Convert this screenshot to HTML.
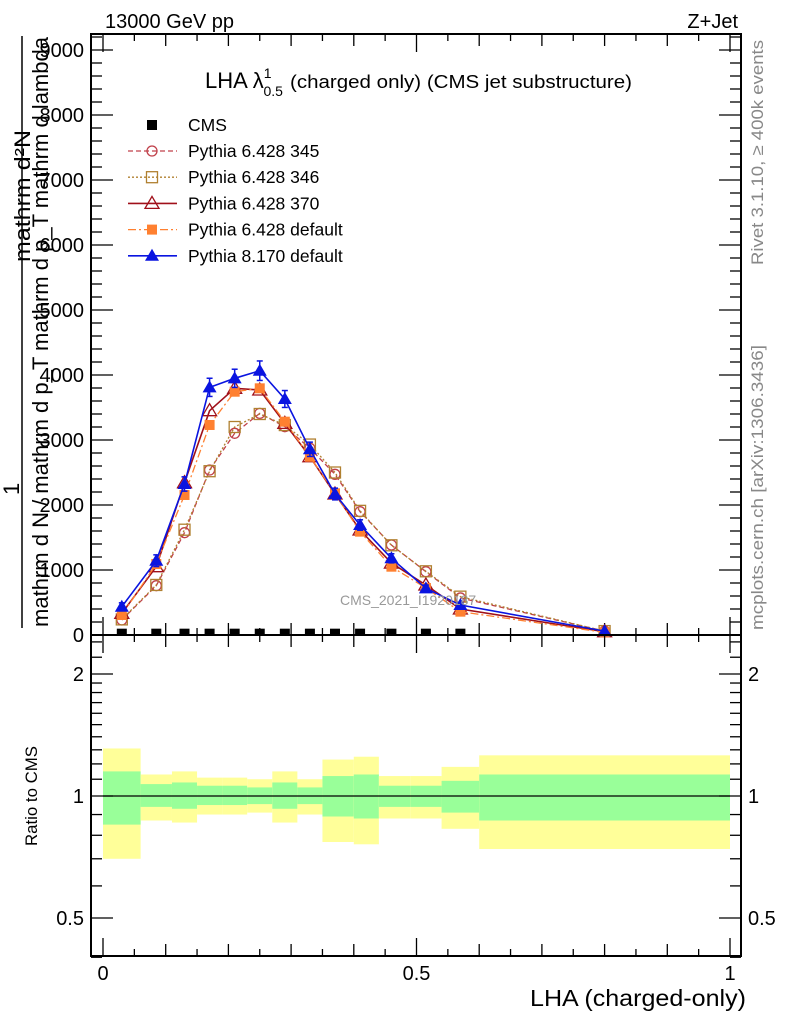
<!DOCTYPE html>
<html><head><meta charset="utf-8"><style>
html,body{margin:0;padding:0;background:#fff;}
svg{display:block;font-family:"Liberation Sans",sans-serif;}
</style></head><body>
<svg id="chart" width="786" height="1024" viewBox="0 0 786 1024" xmlns="http://www.w3.org/2000/svg">
<text x="105" y="28" font-size="20">13000 GeV pp</text>
<text x="738" y="28" font-size="20" text-anchor="end">Z+Jet</text>
<g id="main"></g>
<g id="ratio"></g>
<g>
<text x="205" y="88" font-size="22">LHA λ<tspan font-size="14" dy="-10">1</tspan><tspan font-size="14" dx="-8" dy="18">0.5</tspan></text>
<text x="290" y="88" font-size="18" textLength="342" lengthAdjust="spacingAndGlyphs">(charged only) (CMS jet substructure)</text>
</g>
<text x="340" y="605" font-size="14" fill="#999">CMS_2021_I1920187</text>
<text transform="translate(763,265) rotate(-90)" font-size="17" fill="#888" textLength="225" lengthAdjust="spacingAndGlyphs">Rivet 3.1.10, ≥ 400k events</text>
<text transform="translate(763,630) rotate(-90)" font-size="17" fill="#888" textLength="285" lengthAdjust="spacingAndGlyphs">mcplots.cern.ch [arXiv:1306.3436]</text>
<g font-size="22">
<text transform="translate(19,495) rotate(-90)">1</text>
<text transform="translate(30,262) rotate(-90)" textLength="132" lengthAdjust="spacingAndGlyphs">mathrm d²N</text>
<line x1="22" y1="36" x2="22" y2="628" stroke="#000" stroke-width="1.5"/>
<text transform="translate(48,627) rotate(-90)" textLength="590" lengthAdjust="spacingAndGlyphs">mathrm d N / mathrm d p_T mathrm d p_T mathrm d lambda</text>
</g>
<text transform="translate(37,846) rotate(-90)" font-size="17" textLength="100" lengthAdjust="spacingAndGlyphs">Ratio to CMS</text>
<text x="746" y="1006" font-size="23" text-anchor="end" textLength="216" lengthAdjust="spacingAndGlyphs">LHA (charged-only)</text>
</svg>
<script>
const xCenters=[0.03,0.085,0.13,0.17,0.21,0.25,0.29,0.33,0.37,0.41,0.46,0.515,0.57,0.8];
const binEdges=[0,0.06,0.11,0.15,0.19,0.23,0.27,0.31,0.35,0.40,0.44,0.49,0.54,0.60,1.0];
const cmsVals=[5,5,5,5,5,5,5,5,5,5,5,5,5,5];
const p345=[231,759,1574,2538,3103,3410,3205,2872,2472,1897,1385,974,570,60];
const p346=[240,770,1620,2520,3200,3400,3230,2930,2500,1910,1380,980,590,60];
const p370=[333,1051,2343,3451,3795,3769,3256,2743,2169,1615,1107,769,400,50];
const pDef=[308,1092,2154,3231,3743,3795,3282,2743,2180,1590,1051,723,359,40];
const p8=[435,1143,2323,3810,3949,4066,3631,2857,2169,1692,1180,718,461,60];
const p8err=[60,90,110,140,140,150,130,110,90,80,70,50,40,10];
const yTicks=[1000,2000,3000,4000,5000,6000,7000,8000,9000];
const yTickLabels=["1000","2000","3000","4000","5000","6000","7000","8000","9000"];
const bandYellowHi=[1.31,1.13,1.15,1.11,1.11,1.10,1.15,1.10,1.23,1.25,1.12,1.12,1.18,1.26];
const bandYellowLo=[0.70,0.87,0.86,0.90,0.90,0.91,0.86,0.90,0.77,0.76,0.88,0.88,0.83,0.74];
const bandGreenHi=[1.15,1.07,1.08,1.06,1.06,1.05,1.08,1.05,1.12,1.13,1.06,1.06,1.09,1.13];
const bandGreenLo=[0.85,0.94,0.93,0.95,0.95,0.955,0.93,0.955,0.89,0.88,0.94,0.94,0.91,0.87];
const ratioTicks=[0.5,1,2];
const ratioTickLabels=["0.5","1","2"];
const xTickLabels=["0","0.5","1"];

const NS="http://www.w3.org/2000/svg";
const X=v=>103+v*627;
const Y=v=>635-v*0.065;
const R=v=>796-Math.log2(v)*122;
function mk(parent,tag,attrs){const e=document.createElementNS(NS,tag);for(const k in attrs)e.setAttribute(k,attrs[k]);parent.appendChild(e);return e;}
const main=document.getElementById('main');
const ratio=document.getElementById('ratio');

for(let i=0;i<binEdges.length-1;i++){
  const x0=X(binEdges[i]),x1=X(binEdges[i+1]);
  let r=mk(ratio,'rect',{x:x0,y:R(bandYellowHi[i]),width:x1-x0,height:R(bandYellowLo[i])-R(bandYellowHi[i]),fill:'#ffff99'});
  
  
  r=mk(ratio,'rect',{x:x0,y:R(bandGreenHi[i]),width:x1-x0,height:R(bandGreenLo[i])-R(bandGreenHi[i]),fill:'#99ff99'});
  
  
}
let l1=mk(ratio,'line',{x1:X(0),x2:X(1),y1:R(1),y2:R(1),stroke:'#000','stroke-width':1.3});



const f1=mk(main,'rect',{x:91,y:34,width:650,height:601,fill:'none',stroke:'#000','stroke-width':2});


const f2=mk(ratio,'rect',{x:91,y:635,width:650,height:321,fill:'none',stroke:'#000','stroke-width':2});



for(let v=0;v<=9200;v+=200){
  const y=Y(v);const len=v%1000===0?22:11;
  mk(main,'line',{x1:91,x2:91+len,y1:y,y2:y,stroke:'#000','stroke-width':1.3});
  mk(main,'line',{x1:741,x2:741-len,y1:y,y2:y,stroke:'#000','stroke-width':1.3});
}
yTicks.forEach((v,i)=>{const t=mk(main,'text',{x:84,y:Y(v)+7,'font-size':20,'text-anchor':'end'});t.textContent=yTickLabels[i];

});
const t0=mk(main,'text',{x:84,y:Y(0)+7,'font-size':20,'text-anchor':'end'});t0.textContent="0";
for(let k=0;k<=20;k++){
  const v=k*0.05,x=X(v);const len=k%10===0?18:(k%2===0?12:7);
  mk(main,'line',{x1:x,x2:x,y1:635,y2:635-len,stroke:'#000','stroke-width':1.3});
  mk(main,'line',{x1:x,x2:x,y1:34,y2:34+len,stroke:'#000','stroke-width':1.3});
  mk(ratio,'line',{x1:x,x2:x,y1:956,y2:956-len,stroke:'#000','stroke-width':1.3});
  mk(ratio,'line',{x1:x,x2:x,y1:635,y2:635+len,stroke:'#000','stroke-width':1.3});
}
[0,0.5,1].forEach((v,i)=>{const t=mk(ratio,'text',{x:X(v),y:980,'font-size':20,'text-anchor':'middle'});t.textContent=xTickLabels[i];

});
const rmin=[0.4,0.6,0.7,0.8,0.9,1.1,1.2,1.3,1.4,1.5,1.6,1.7,1.8,1.9,2.2,2.4];
rmin.forEach(v=>{const y=R(v);mk(ratio,'line',{x1:91,x2:102,y1:y,y2:y,stroke:'#000','stroke-width':1.3});mk(ratio,'line',{x1:741,x2:730,y1:y,y2:y,stroke:'#000','stroke-width':1.3});});
ratioTicks.forEach((v,i)=>{const y=R(v);
  mk(ratio,'line',{x1:91,x2:113,y1:y,y2:y,stroke:'#000','stroke-width':1.3});
  mk(ratio,'line',{x1:741,x2:719,y1:y,y2:y,stroke:'#000','stroke-width':1.3});
  const t=mk(ratio,'text',{x:84,y:y+7,'font-size':20,'text-anchor':'end'});t.textContent=ratioTickLabels[i];
  
  
  const t2=mk(ratio,'text',{x:748,y:y+7,'font-size':20});t2.textContent=ratioTickLabels[i];
  
  
});

function marker(g,type,x,y,color){
  if(type==='circle')return mk(g,'circle',{cx:x,cy:y,r:5,fill:'none',stroke:color,'stroke-width':1.3});
  if(type==='osq')return mk(g,'rect',{x:x-5.5,y:y-5.5,width:11,height:11,fill:'none',stroke:color,'stroke-width':1.3});
  if(type==='fsq')return mk(g,'rect',{x:x-5,y:y-5,width:10,height:10,fill:color});
  if(type==='otri')return mk(g,'path',{d:`M${x},${y-7}L${x+7},${y+5}L${x-7},${y+5}Z`,fill:'none',stroke:color,'stroke-width':1.3});
  if(type==='ftri')return mk(g,'path',{d:`M${x},${y-7}L${x+7},${y+5}L${x-7},${y+5}Z`,fill:color});
}
const series=[
 {name:'Pythia 6.428 345',vals:p345,color:'#c0404a',dash:'5,3',m:'circle',w:1.3},
 {name:'Pythia 6.428 346',vals:p346,color:'#b08030',dash:'2,2',m:'osq',w:1.3},
 {name:'Pythia 6.428 370',vals:p370,color:'#a0101a',dash:'',m:'otri',w:1.6},
 {name:'Pythia 6.428 default',vals:pDef,color:'#ff8030',dash:'8,3,2,3',m:'fsq',w:1.3},
 {name:'Pythia 8.170 default',vals:p8,color:'#0a14e0',dash:'',m:'ftri',w:1.6}
];
series.forEach((s,si)=>{
  const g=mk(main,'g',{});
  
  
  const pts=s.vals.map((v,i)=>X(xCenters[i])+','+Y(v)).join(' ');
  const pl=mk(g,'polyline',{points:pts,fill:'none',stroke:s.color,'stroke-width':s.w,'stroke-dasharray':s.dash});
  
  
  s.vals.forEach((v,i)=>{
    if(si===4){const x=X(xCenters[i]);mk(g,'line',{x1:x,x2:x,y1:Y(v+p8err[i]),y2:Y(v-p8err[i]),stroke:s.color,'stroke-width':1.5});
      mk(g,'line',{x1:x-3,x2:x+3,y1:Y(v+p8err[i]),y2:Y(v+p8err[i]),stroke:s.color,'stroke-width':1.5});
      mk(g,'line',{x1:x-3,x2:x+3,y1:Y(v-p8err[i]),y2:Y(v-p8err[i]),stroke:s.color,'stroke-width':1.5});}
    const m=marker(g,s.m,X(xCenters[i]),Y(v),s.color);
    
    
  });
  const ly=151+si*26.2;
  const lg=mk(main,'g',{});
  
  
  mk(lg,'line',{x1:128,x2:177,y1:ly,y2:ly,stroke:s.color,'stroke-width':s.w,'stroke-dasharray':s.dash});
  marker(lg,s.m,152,ly,s.color);
  const t=mk(lg,'text',{x:188,y:ly+6,'font-size':17.5});t.textContent=s.name;
});
const cg=mk(main,'g',{});


cmsVals.forEach((v,i)=>{if(i===13)return;const r=mk(cg,'rect',{x:X(xCenters[i])-5,y:Y(v)-6,width:10,height:6,fill:'#000'});

});
const lcg=mk(main,'g',{});


mk(lcg,'rect',{x:147,y:120,width:10,height:10,fill:'#000'});
const ct=mk(lcg,'text',{x:188,y:131,'font-size':17.5});ct.textContent='CMS';
</script>
</body></html>
